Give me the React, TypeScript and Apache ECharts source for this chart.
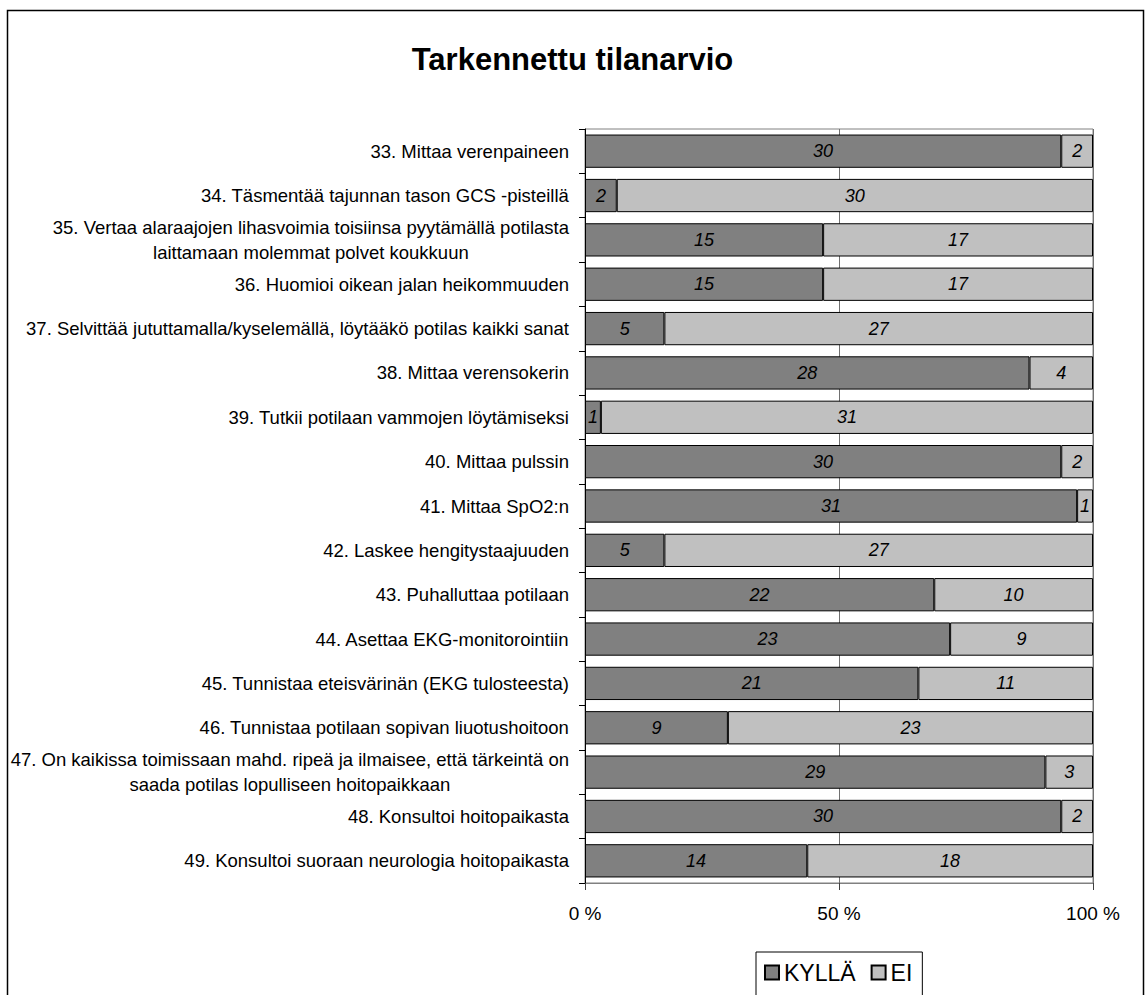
import React, { useEffect, useRef } from "react";
import * as echarts from "echarts";

// Survey items (top to bottom)
const categories: string[] = [
  "33. Mittaa verenpaineen",
  "34. Täsmentää tajunnan tason GCS -pisteillä",
  "35. Vertaa alaraajojen lihasvoimia toisiinsa pyytämällä potilasta\nlaittamaan molemmat polvet koukkuun",
  "36. Huomioi oikean jalan heikommuuden",
  "37. Selvittää jututtamalla/kyselemällä, löytääkö potilas kaikki sanat",
  "38. Mittaa verensokerin",
  "39. Tutkii potilaan vammojen löytämiseksi",
  "40. Mittaa pulssin",
  "41. Mittaa SpO2:n",
  "42. Laskee hengitystaajuuden",
  "43. Puhalluttaa potilaan",
  "44. Asettaa EKG-monitorointiin",
  "45. Tunnistaa eteisvärinän (EKG tulosteesta)",
  "46. Tunnistaa potilaan sopivan liuotushoitoon",
  "47. On kaikissa toimissaan mahd. ripeä ja ilmaisee, että tärkeintä on\nsaada potilas lopulliseen hoitopaikkaan",
  "48. Konsultoi hoitopaikasta",
  "49. Konsultoi suoraan neurologia hoitopaikasta",
];

// Answer counts per item
const yesCounts: number[] = [30, 2, 15, 15, 5, 28, 1, 30, 31, 5, 22, 23, 21, 9, 29, 30, 14];
const noCounts: number[] = [2, 30, 17, 17, 27, 4, 31, 2, 1, 27, 10, 9, 11, 23, 3, 2, 18];

const seriesNames: string[] = ["KYLLÄ", "EI"];
const xTicks: number[] = [0, 50, 100];

const FONT = "'Liberation Sans', Arial, sans-serif";

function toShares(counts: number[], other: number[]) {
  return counts.map((c, i) => ({
    value: (c / (c + other[i])) * 100,
    count: c,
  }));
}

export default function App() {
  const ref = useRef<HTMLDivElement>(null);

  useEffect(() => {
    document.body.style.margin = "0";
    if (!ref.current) return;
    const chart = echarts.init(ref.current, null, { renderer: "svg" });

    const barLabel = {
      show: true,
      position: "inside",
      fontStyle: "italic",
      fontSize: 18,
      fontFamily: FONT,
      color: "#000",
      formatter: (p: any) => String(p.data.count),
    };

    chart.setOption({
      animation: false,
      backgroundColor: "#fff",
      textStyle: { fontFamily: FONT },
      title: {
        text: "Tarkennettu tilanarvio",
        left: "center",
        top: 44,
        padding: 0,
        textStyle: { fontSize: 31, fontWeight: "bold", color: "#000", fontFamily: FONT },
      },
      graphic: [
        {
          type: "rect",
          shape: { x: 7.5, y: 10.5, width: 1136, height: 1000 },
          style: { fill: "none", stroke: "#000", lineWidth: 1.5 },
          silent: true,
          z: 100,
        },
      ],
      legend: {
        data: seriesNames,
        left: 756,
        top: 952,
        orient: "horizontal",
        icon: "rect",
        itemWidth: 14,
        itemHeight: 14,
        itemGap: 15,
        borderColor: "#000",
        borderWidth: 1,
        padding: [9, 10, 30, 8],
        textStyle: { fontSize: 23, color: "#000", fontFamily: FONT },
      },
      grid: {
        left: 585,
        right: 52,
        top: 129,
        bottom: 112,
        show: true,
        borderColor: "#808080",
        borderWidth: 1,
        backgroundColor: "transparent",
      },
      xAxis: {
        type: "value",
        min: xTicks[0],
        max: xTicks[xTicks.length - 1],
        interval: xTicks[1] - xTicks[0],
        axisLine: { show: true, lineStyle: { color: "#808080", width: 1 } },
        axisTick: { show: true, length: 7, lineStyle: { color: "#404040" } },
        splitLine: { show: true, lineStyle: { color: "#707070", width: 1 } },
        axisLabel: {
          fontSize: 19,
          color: "#000",
          margin: 21,
          fontFamily: FONT,
          formatter: (v: number) => `${v} %`,
        },
      },
      yAxis: {
        type: "category",
        data: categories,
        inverse: true,
        axisLine: { show: true, lineStyle: { color: "#000", width: 1 } },
        axisTick: { show: true, length: 6, lineStyle: { color: "#000" } },
        splitLine: { show: false },
        axisLabel: {
          fontSize: 18.5,
          color: "#000",
          margin: 16,
          fontFamily: FONT,
          lineHeight: 25,
          formatter: (v: string) =>
            v
              .split("\n")
              .map((line) => `{c|${line}}`)
              .join("\n"),
          rich: {
            c: {
              align: "center",
              fontSize: 18.5,
              color: "#000",
              fontFamily: FONT,
              lineHeight: 25,
            },
          },
        },
      },
      series: [
        {
          name: seriesNames[0],
          type: "bar",
          stack: "total",
          barWidth: "75%",
          data: toShares(yesCounts, noCounts),
          itemStyle: { color: "#808080", borderColor: "#000", borderWidth: 1 },
          label: barLabel,
        },
        {
          name: seriesNames[1],
          type: "bar",
          stack: "total",
          barWidth: "75%",
          data: toShares(noCounts, yesCounts),
          itemStyle: { color: "#c0c0c0", borderColor: "#000", borderWidth: 1 },
          label: barLabel,
        },
      ],
    });

    return () => {
      chart.dispose();
    };
  }, []);

  return <div ref={ref} style={{ width: 1145, height: 995 }} />;
}
